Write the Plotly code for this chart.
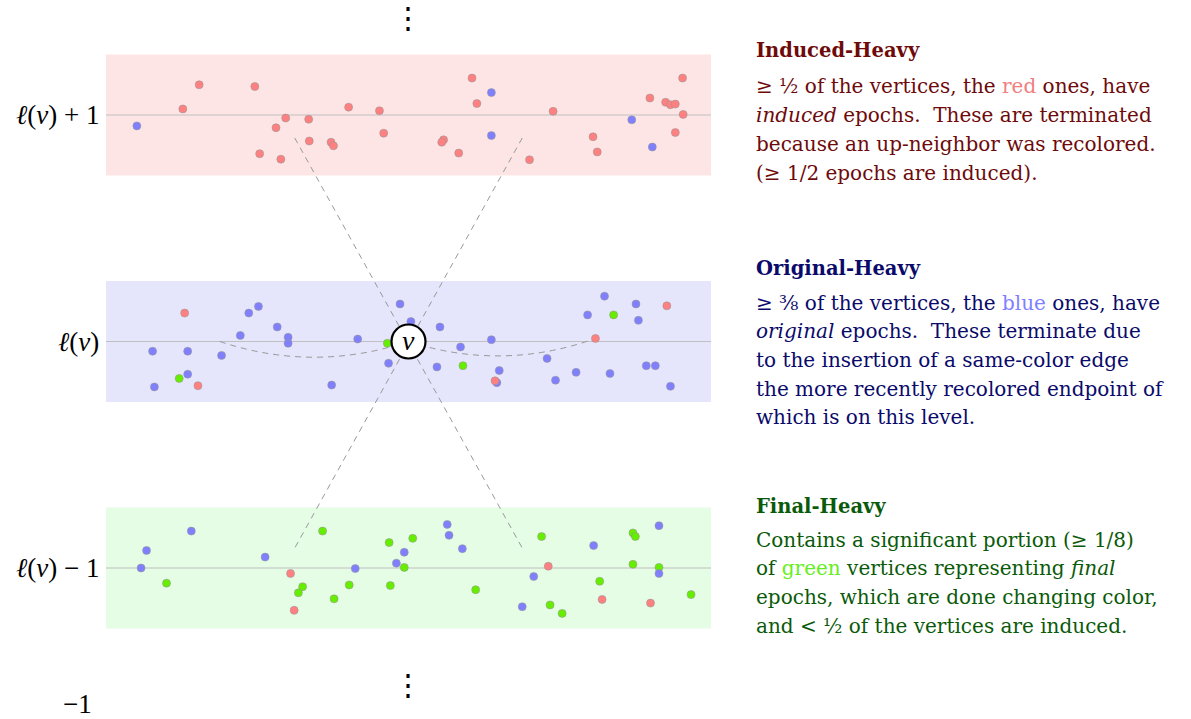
import plotly.graph_objects as go

# ---------------- data (x: 0..10 across band, dy: -1..1 within band) ----------------
LEVELS = [1, 0, -1]
LEVEL_LABELS = ["<i>ℓ</i>(<i>v</i>) + 1", "<i>ℓ</i>(<i>v</i>)", "<i>ℓ</i>(<i>v</i>) − 1"]

top_red_x = [1.27, 1.54, 2.46, 2.97, 2.81, 3.35, 3.36, 2.54, 2.89, 3.72, 3.76, 4.01, 4.52, 4.59,
             5.58, 5.55, 5.83, 6.05, 6.13, 7.00, 7.39, 8.05, 8.12, 8.99, 9.25, 9.33, 9.41, 9.53, 9.54, 9.41]
top_red_dy = [0.10, 0.50, 0.47, -0.05, -0.21, -0.07, -0.43, -0.64, -0.73, -0.45, -0.51, 0.13, 0.07, -0.30,
              -0.41, -0.45, -0.63, 0.61, 0.19, -0.74, 0.06, -0.36, -0.61, 0.28, 0.21, 0.17, 0.18, 0.61, 0.01, -0.29]
top_blue_x = [0.51, 6.37, 6.37, 8.69, 9.03]
top_blue_dy = [-0.18, 0.37, -0.34, -0.08, -0.53]

mid_blue_x = [0.77, 1.35, 1.91, 1.35, 0.80, 2.22, 2.36, 2.52, 2.83, 3.01, 3.01, 3.73, 4.16, 4.86, 5.04,
              4.67, 5.52, 5.86, 5.47, 6.37, 6.50, 6.46, 7.29, 7.43, 7.77, 7.96, 8.24, 8.33, 8.76, 8.80,
              8.93, 9.08, 9.33]
mid_blue_dy = [-0.16, -0.16, -0.23, -0.54, -0.75, 0.10, 0.47, 0.58, 0.24, 0.07, -0.03, -0.72, 0.04, 0.62, 0.33,
               -0.36, 0.24, -0.09, -0.42, 0.03, -0.48, -0.68, -0.28, -0.64, -0.51, 0.44, 0.75, -0.53, 0.62, 0.35,
               -0.40, -0.40, -0.74]
mid_red_x = [1.30, 1.52, 6.43, 8.09, 9.27]
mid_red_dy = [0.47, -0.73, -0.65, 0.05, 0.59]
mid_green_x = [1.21, 4.65, 5.90, 8.39]
mid_green_dy = [-0.61, -0.03, -0.40, 0.44]

bot_green_x = [1.00, 3.25, 3.18, 3.58, 3.77, 4.02, 4.68, 5.07, 4.93, 4.70, 6.11, 7.20, 7.34, 7.54,
               8.16, 8.71, 8.75, 8.71, 9.14, 9.67]
bot_green_dy = [-0.25, -0.31, -0.41, 0.61, -0.51, -0.28, 0.42, 0.49, 0.01, -0.29, -0.36, 0.52, -0.61, -0.75,
                -0.22, 0.58, 0.52, 0.06, 0.01, -0.44]
bot_blue_x = [0.58, 0.67, 1.41, 2.63, 4.12, 4.93, 4.80, 5.64, 5.67, 5.89, 6.88, 7.07, 8.06, 9.14, 9.14]
bot_blue_dy = [0.00, 0.29, 0.61, 0.18, -0.01, 0.26, 0.08, 0.72, 0.54, 0.32, -0.64, -0.14, 0.37, 0.70, -0.09]
bot_red_x = [3.05, 3.11, 7.31, 8.20, 9.00]
bot_red_dy = [-0.09, -0.70, 0.03, -0.52, -0.58]

# ---------------- style ----------------
W, H = 1191, 719
PX_X = 60.5      # px per x unit
PX_Y = 226.5     # px per level
X0_PX = 106
Y0_PX = 341.5
HALF = 60.5 / PX_Y   # band half height in level units

RED, BLUE, GREEN = "#ff8080", "#8080ff", "#66ee00"
BAND = {1: "#fde5e5", 0: "#e5e5fb", -1: "#e5fce5"}
SERIF = "Liberation Serif"
TEXT_FONT = "DejaVu Serif"

fig = go.Figure()

def add_dots(xs, dys, level, color):
    fig.add_trace(go.Scatter(
        x=xs, y=[level + d * HALF for d in dys], mode="markers",
        marker=dict(size=8, color=color, line=dict(width=1, color="rgba(150,150,150,0.55)")),
        hoverinfo="skip", showlegend=False))

add_dots(top_red_x, top_red_dy, 1, RED)
add_dots(top_blue_x, top_blue_dy, 1, BLUE)
add_dots(mid_blue_x, mid_blue_dy, 0, BLUE)
add_dots(mid_red_x, mid_red_dy, 0, RED)
add_dots(mid_green_x, mid_green_dy, 0, GREEN)
add_dots(bot_green_x, bot_green_dy, -1, GREEN)
add_dots(bot_blue_x, bot_blue_dy, -1, BLUE)
add_dots(bot_red_x, bot_red_dy, -1, RED)

shapes = []
for lv in LEVELS:
    shapes.append(dict(type="rect", x0=0, x1=10, y0=lv - HALF, y1=lv + HALF,
                       fillcolor=BAND[lv], line=dict(width=0), layer="below"))
    shapes.append(dict(type="line", x0=0, x1=10, y0=lv, y1=lv,
                       line=dict(color="#c0c0c0", width=1.2), layer="below"))

dash = dict(color="#999999", width=1, dash="6px,5px")
shapes.append(dict(type="line", x0=3.12, y0=1 - 0.38 * HALF, x1=6.88, y1=-1 + 0.33 * HALF, line=dash, layer="below"))
shapes.append(dict(type="line", x0=6.88, y0=1 - 0.38 * HALF, x1=3.12, y1=-1 + 0.33 * HALF, line=dash, layer="below"))
shapes.append(dict(type="path", path=f"M 1.88 0 Q 3.44 {-0.52*HALF} 5.0 0", line=dash, layer="below"))
shapes.append(dict(type="path", path=f"M 5.0 0 Q 6.55 {-0.50*HALF} 8.09 {0.05*HALF}", line=dash, layer="below"))

rx, ry = 17 / PX_X, 17 / PX_Y
shapes.append(dict(type="circle", x0=5 - rx, x1=5 + rx, y0=-ry, y1=ry,
                   fillcolor="white", line=dict(color="black", width=2.2), layer="above"))

ann = []
def px(xp, yp):
    return xp / W, 1 - yp / H

ann.append(dict(x=5, y=0.004, xref="x", yref="y", text="<i>v</i>", showarrow=False,
                font=dict(family=SERIF, size=28, color="black")))

for lv, lab in zip(LEVELS, LEVEL_LABELS):
    ann.append(dict(x=px(101, 0)[0], y=lv, xref="paper", yref="y", text=lab, showarrow=False,
                    xanchor="right", yanchor="middle", font=dict(family=SERIF, size=27, color="black")))

for yy in (18, 684):
    x, y = px(408, yy)
    ann.append(dict(x=x, y=y, xref="paper", yref="paper", text="⋮", showarrow=False,
                    xanchor="center", yanchor="middle", font=dict(family="DejaVu Serif", size=30, color="black")))
x, y = px(77, 704)
ann.append(dict(x=x, y=y, xref="paper", yref="paper", text="−1", showarrow=False,
                xanchor="center", yanchor="middle", font=dict(family=SERIF, size=27, color="black")))

blocks = [
    ("#6e0a0a", 50, "Induced-Heavy", [
        (86, "≥ ½ of the vertices, the <span style='color:#f08080'>red</span> ones, have"),
        (115, "<i>induced</i> epochs.  These are terminated"),
        (144, "because an up-neighbor was recolored."),
        (173, "(≥ 1/2 epochs are induced)."),
    ]),
    ("#0a0a6a", 268, "Original-Heavy", [
        (303, "≥ ⅜ of the vertices, the <span style='color:#8080ff'>blue</span> ones, have"),
        (331, "<i>original</i> epochs.  These terminate due"),
        (360, "to the insertion of a same-color edge"),
        (389, "the more recently recolored endpoint of"),
        (417, "which is on this level."),
    ]),
    ("#0a5a0a", 506, "Final-Heavy", [
        (540, "Contains a significant portion (≥ 1/8)"),
        (568, "of <span style='color:#66ee22'>green</span> vertices representing <i>final</i>"),
        (597, "epochs, which are done changing color,"),
        (626, "and < ½ of the vertices are induced."),
    ]),
]
for color, ty, title, lines in blocks:
    x, y = px(754, ty)
    ann.append(dict(x=x, y=y, xref="paper", yref="paper", text=f"<b>{title}</b>", showarrow=False,
                    xanchor="left", yanchor="middle", font=dict(family=TEXT_FONT, size=19.5, color=color)))
    for ly, txt in lines:
        x, y = px(754, ly)
        ann.append(dict(x=x, y=y, xref="paper", yref="paper", text=txt, showarrow=False,
                        xanchor="left", yanchor="middle", font=dict(family=TEXT_FONT, size=20, color=color)))

fig.update_layout(
    width=W, height=H, margin=dict(l=0, r=0, t=0, b=0),
    paper_bgcolor="white", plot_bgcolor="white",
    xaxis=dict(range=[-X0_PX / PX_X, (W - X0_PX) / PX_X], visible=False, fixedrange=True),
    yaxis=dict(range=[(Y0_PX - H) / PX_Y, Y0_PX / PX_Y], visible=False, fixedrange=True),
    shapes=shapes, annotations=ann, showlegend=False,
)

fig.write_html("out.html", config={"displayModeBar": False},
               post_script="document.body.style.margin='0';")
